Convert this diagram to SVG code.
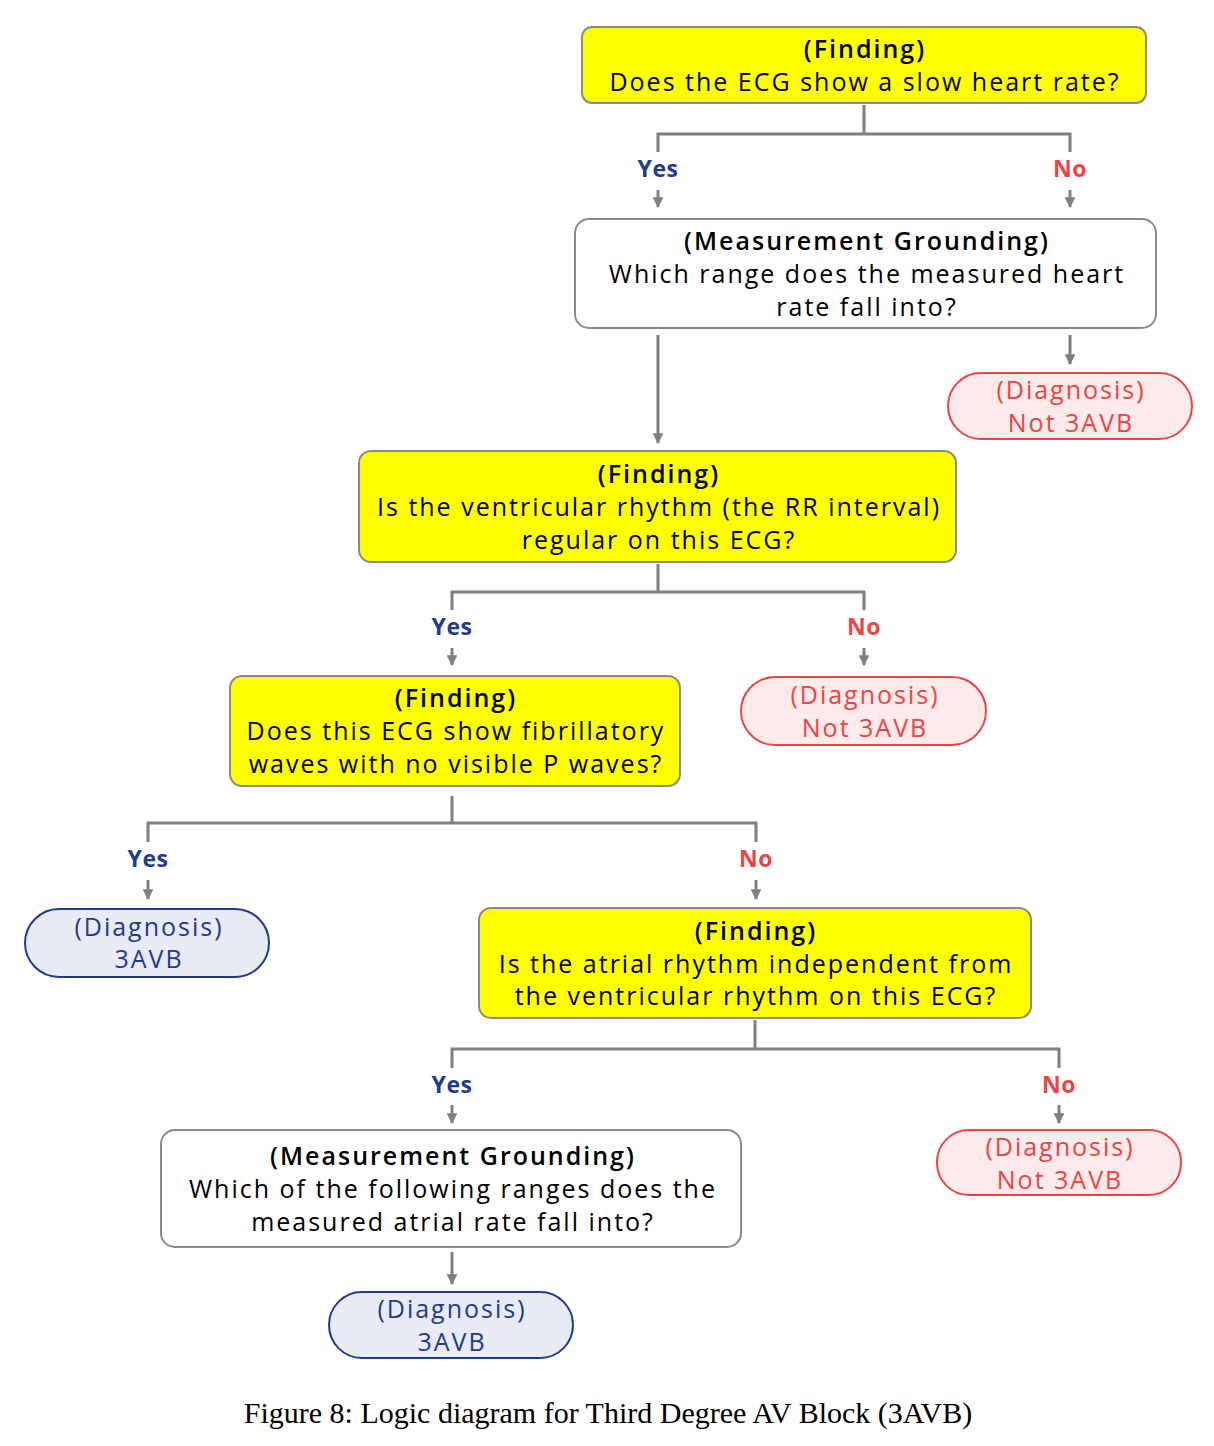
<svg xmlns="http://www.w3.org/2000/svg" width="1214" height="1446" viewBox="0 0 1214 1446">
<defs>
<style>
.q{fill:#ffff00;stroke:#8a8a8a;stroke-width:2}
.m{fill:#ffffff;stroke:#8a8a8a;stroke-width:2}
.dn{fill:#fdeaea;stroke:#ee4444;stroke-width:2}
.dy{fill:#e8ebf4;stroke:#1f3a8f;stroke-width:2}
text{font-family:"Open Sans","Liberation Sans",sans-serif;font-size:25px;text-anchor:middle;letter-spacing:2px}
.t{font-weight:600;fill:#000}
.b{fill:#000}
.tr{fill:#ee4444}
.tb{fill:#1f3a8f}
.y{font-weight:700;font-size:23px;fill:#1f3a8f;letter-spacing:0.5px}
.n{font-weight:700;font-size:23px;fill:#ee4444;letter-spacing:0.5px}
.c{fill:none;stroke:#7f7f7f;stroke-width:3}
.cap{font-family:"Liberation Serif","Times New Roman",serif;font-size:30px;fill:#000;letter-spacing:0}
</style>
<marker id="ah" viewBox="0 0 10 10" refX="9" refY="5" markerWidth="3.6" markerHeight="3.6" orient="auto" markerUnits="strokeWidth">
<path d="M0,0 L10,5 L0,10 z" fill="#7f7f7f"/>
</marker>
</defs>
<g id="connectors">
<path class="c" d="M864,105 V134 M658,152 V134 H1070 V152"/>
<path class="c" d="M658,190 V207" marker-end="url(#ah)"/>
<path class="c" d="M1070,190 V207" marker-end="url(#ah)"/>
<path class="c" d="M658,335 V443" marker-end="url(#ah)"/>
<path class="c" d="M1070,335 V364" marker-end="url(#ah)"/>
<path class="c" d="M658,564 V592 M452,610 V592 H864 V610"/>
<path class="c" d="M452,648 V665" marker-end="url(#ah)"/>
<path class="c" d="M864,648 V665" marker-end="url(#ah)"/>
<path class="c" d="M452,796 V823 M148,842 V823 H756 V842"/>
<path class="c" d="M148,880 V899" marker-end="url(#ah)"/>
<path class="c" d="M756,880 V899" marker-end="url(#ah)"/>
<path class="c" d="M755,1020 V1049 M452,1068 V1049 H1059 V1068"/>
<path class="c" d="M452,1105 V1123" marker-end="url(#ah)"/>
<path class="c" d="M1059,1105 V1123" marker-end="url(#ah)"/>
<path class="c" d="M452,1252 V1284" marker-end="url(#ah)"/>
<text class="y" x="658" y="177">Yes</text>
<text class="n" x="1070" y="177">No</text>
<text class="y" x="452" y="635">Yes</text>
<text class="n" x="864" y="635">No</text>
<text class="y" x="148" y="867">Yes</text>
<text class="n" x="756" y="867">No</text>
<text class="y" x="452" y="1093">Yes</text>
<text class="n" x="1059" y="1093">No</text>
</g>
<g id="n1">
<rect class="q" x="582" y="27" width="564" height="76" rx="10"/>
<text class="t" x="865" y="58">(Finding)</text>
<text class="b" x="865" y="91">Does the ECG show a slow heart rate?</text>
</g>
<g id="n2">
<rect class="m" x="575" y="219" width="581" height="109" rx="14"/>
<text class="t" x="867" y="250">(Measurement Grounding)</text>
<text class="b" x="867" y="283">Which range does the measured heart</text>
<text class="b" x="867" y="316">rate fall into?</text>
</g>
<g id="d1">
<rect class="dn" x="948" y="373" width="244" height="66" rx="33"/>
<text class="tr" x="1071" y="399">(Diagnosis)</text>
<text class="tr" x="1071" y="432">Not 3AVB</text>
</g>
<g id="n3">
<rect class="q" x="359" y="451" width="597" height="111" rx="12"/>
<text class="t" x="659" y="483">(Finding)</text>
<text class="b" x="659" y="516">Is the ventricular rhythm (the RR interval)</text>
<text class="b" x="659" y="549">regular on this ECG?</text>
</g>
<g id="d2">
<rect class="dn" x="741" y="677" width="245" height="68" rx="34"/>
<text class="tr" x="865" y="704">(Diagnosis)</text>
<text class="tr" x="865" y="737">Not 3AVB</text>
</g>
<g id="n4">
<rect class="q" x="230" y="676" width="450" height="110" rx="12"/>
<text class="t" x="456" y="707">(Finding)</text>
<text class="b" x="456" y="740">Does this ECG show fibrillatory</text>
<text class="b" x="456" y="773">waves with no visible P waves?</text>
</g>
<g id="d3">
<rect class="dy" x="25" y="909" width="244" height="68" rx="34"/>
<text class="tb" x="149" y="936">(Diagnosis)</text>
<text class="tb" x="149" y="968">3AVB</text>
</g>
<g id="n5">
<rect class="q" x="479" y="908" width="552" height="110" rx="12"/>
<text class="t" x="756" y="940">(Finding)</text>
<text class="b" x="756" y="973">Is the atrial rhythm independent from</text>
<text class="b" x="756" y="1005">the ventricular rhythm on this ECG?</text>
</g>
<g id="n6">
<rect class="m" x="161" y="1130" width="580" height="117" rx="14"/>
<text class="t" x="453" y="1165">(Measurement Grounding)</text>
<text class="b" x="453" y="1198">Which of the following ranges does the</text>
<text class="b" x="453" y="1231">measured atrial rate fall into?</text>
</g>
<g id="d4">
<rect class="dn" x="937" y="1130" width="244" height="65" rx="32"/>
<text class="tr" x="1060" y="1156">(Diagnosis)</text>
<text class="tr" x="1060" y="1189">Not 3AVB</text>
</g>
<g id="d5">
<rect class="dy" x="329" y="1292" width="244" height="66" rx="33"/>
<text class="tb" x="452" y="1318">(Diagnosis)</text>
<text class="tb" x="452" y="1351">3AVB</text>
</g>
<text class="cap" x="608" y="1423">Figure 8: Logic diagram for Third Degree AV Block (3AVB)</text>
</svg>
